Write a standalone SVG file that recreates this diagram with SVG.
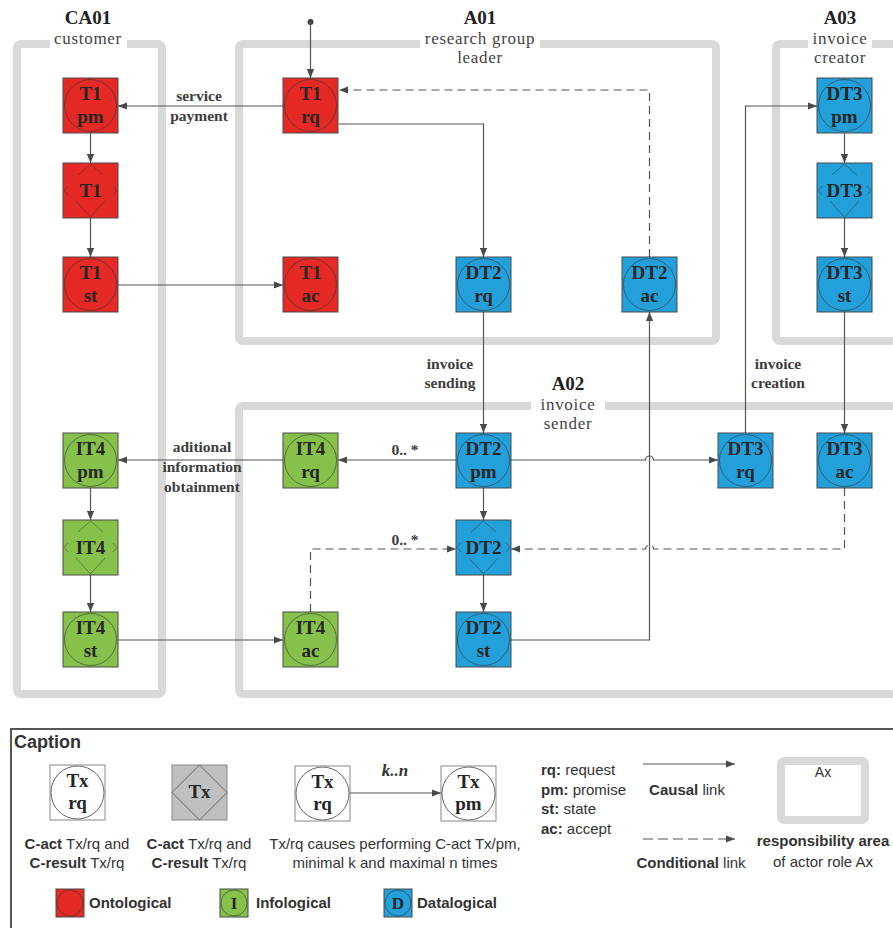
<svg xmlns="http://www.w3.org/2000/svg" width="893" height="928" viewBox="0 0 893 928">
<style>
.frame{fill:none;stroke:#d9d9d9;stroke-width:8}
.n{stroke:#4a4a4a;stroke-width:1}
.red{fill:#e52a25}
.grn{fill:#86c24b}
.blu{fill:#23a0da}
.ring{fill:none;stroke:#333;stroke-opacity:.6;stroke-width:1}
.nt{font-family:"Liberation Serif",serif;font-weight:bold;font-size:19px;fill:#262626;text-anchor:middle}
.ttl{font-family:"Liberation Serif",serif;font-weight:bold;font-size:19px;fill:#222;text-anchor:middle}
.sub{font-family:"Liberation Serif",serif;font-size:17px;letter-spacing:0.7px;fill:#444;text-anchor:middle}
.lbl{font-family:"Liberation Serif",serif;font-weight:bold;font-size:15.5px;fill:#3d3d3d;text-anchor:middle}
.lnk{fill:none;stroke:#555;stroke-width:1.2}
.dash{stroke-dasharray:8 5}
.cap{font-family:"Liberation Sans",Arial,sans-serif;font-size:15px;fill:#333}
.mid{text-anchor:middle}
.b{font-weight:bold}
.wbg{fill:#fff}
</style>
<defs>
<marker id="ah" viewBox="0 0 10 8" refX="10" refY="4" markerWidth="9" markerHeight="7.2" markerUnits="userSpaceOnUse" orient="auto"><path d="M0,0 L10,4 L0,8 z" fill="#4a4a4a"/></marker>
<g id="xm" fill="none" stroke="#2d2d2d" stroke-opacity="0.45" stroke-width="1">
<path d="M15,12 L27.5,1 L40,12"/>
<path d="M13,38 L27.5,54 L42,38"/>
<path d="M5,23 L1,27.5 L5,32"/>
<path d="M50,23 L54,27.5 L50,32"/>
</g>
</defs>
<rect width="893" height="928" fill="#fff"/>

<g id="areas">
<rect class="frame" x="17" y="44" width="145" height="650" rx="4"/>
<rect class="frame" x="239" y="44" width="477" height="297" rx="4"/>
<rect class="frame" x="776" y="44" width="140" height="297" rx="4"/>
<rect class="frame" x="239" y="406" width="680" height="288" rx="4"/>
<rect class="wbg" x="50" y="30" width="77" height="19"/>
<rect class="wbg" x="420" y="30" width="120" height="19"/>
<rect class="wbg" x="808" y="30" width="64" height="19"/>
<rect class="wbg" x="531" y="396" width="74" height="19"/>
<text class="ttl" x="88" y="24">CA01</text>
<text class="sub" x="88" y="44">customer</text>
<text class="ttl" x="480" y="24">A01</text>
<text class="sub" x="480" y="44">research group</text>
<text class="sub" x="480" y="63">leader</text>
<text class="ttl" x="840" y="24">A03</text>
<text class="sub" x="840" y="44">invoice</text>
<text class="sub" x="840" y="63">creator</text>
<text class="ttl" x="568" y="390">A02</text>
<text class="sub" x="568" y="410">invoice</text>
<text class="sub" x="568" y="429">sender</text>
</g>

<g id="connectors">
<circle cx="310.5" cy="22" r="3" fill="#444"/>
<path class="lnk" d="M310.5,22 V78" marker-end="url(#ah)"/>
<path class="lnk" d="M283,106 H118" marker-end="url(#ah)"/>
<path class="lnk" d="M339,124 H483.5 V257" marker-end="url(#ah)"/>
<path class="lnk dash" d="M649.5,257 V90 H339" marker-end="url(#ah)"/>
<path class="lnk" d="M90.5,133 V163" marker-end="url(#ah)"/>
<path class="lnk" d="M90.5,218 V257" marker-end="url(#ah)"/>
<path class="lnk" d="M118,285 H283" marker-end="url(#ah)"/>
<path class="lnk" d="M844.5,133 V163" marker-end="url(#ah)"/>
<path class="lnk" d="M844.5,218 V257" marker-end="url(#ah)"/>
<path class="lnk" d="M745.5,433 V106 H817" marker-end="url(#ah)"/>
<path class="lnk" d="M844.5,312 V433" marker-end="url(#ah)"/>
<path class="lnk" d="M483.5,312 V433" marker-end="url(#ah)"/>
<path class="lnk" d="M456,460 H338" marker-end="url(#ah)"/>
<path class="lnk" d="M283,460 H118" marker-end="url(#ah)"/>
<path class="lnk" d="M511,460 H645.5 a4,4 0 0 1 8,0 H718" marker-end="url(#ah)"/>
<path class="lnk" d="M483.5,488 V520" marker-end="url(#ah)"/>
<path class="lnk" d="M483.5,575 V612" marker-end="url(#ah)"/>
<path class="lnk" d="M511,640 H649.5 V312" marker-end="url(#ah)"/>
<path class="lnk" d="M90.5,488 V520" marker-end="url(#ah)"/>
<path class="lnk" d="M90.5,575 V612" marker-end="url(#ah)"/>
<path class="lnk" d="M118,640 H283" marker-end="url(#ah)"/>
<path class="lnk dash" d="M310.5,612 V549 H456" marker-end="url(#ah)"/>
<path class="lnk dash" d="M844.5,488 V549 H653.5 a4,4 0 0 0 -8,0 H511" marker-end="url(#ah)"/>
<text class="lbl" x="199" y="101">service</text>
<text class="lbl" x="199" y="121">payment</text>
<text class="lbl" x="450" y="369">invoice</text>
<text class="lbl" x="450" y="388">sending</text>
<text class="lbl" x="778" y="369">invoice</text>
<text class="lbl" x="778" y="388">creation</text>
<text class="lbl" x="202" y="452">aditional</text>
<text class="lbl" x="202" y="472">information</text>
<text class="lbl" x="202" y="492">obtainment</text>
<text class="lbl" x="405" y="455">0.. *</text>
<text class="lbl" x="405" y="545">0.. *</text>
</g>

<g id="T1pm"><rect class="n red" x="63" y="78" width="55" height="55"/><circle class="ring" cx="90.5" cy="105.5" r="26"/><text class="nt" x="90.5" y="100">T1</text><text class="nt" x="90.5" y="123">pm</text></g>
<g id="T1ex"><rect class="n red" x="63" y="163" width="55" height="55"/><use href="#xm" x="63" y="163"/><text class="nt" x="90.5" y="197">T1</text></g>
<g id="T1st"><rect class="n red" x="63" y="257" width="55" height="55"/><circle class="ring" cx="90.5" cy="284.5" r="26"/><text class="nt" x="90.5" y="279">T1</text><text class="nt" x="90.5" y="302">st</text></g>
<g id="T1rq"><rect class="n red" x="283" y="78" width="55" height="55"/><circle class="ring" cx="310.5" cy="105.5" r="26"/><text class="nt" x="310.5" y="100">T1</text><text class="nt" x="310.5" y="123">rq</text></g>
<g id="T1ac"><rect class="n red" x="283" y="257" width="55" height="55"/><circle class="ring" cx="310.5" cy="284.5" r="26"/><text class="nt" x="310.5" y="279">T1</text><text class="nt" x="310.5" y="302">ac</text></g>
<g id="DT2rq"><rect class="n blu" x="456" y="257" width="55" height="55"/><circle class="ring" cx="483.5" cy="284.5" r="26"/><text class="nt" x="483.5" y="279">DT2</text><text class="nt" x="483.5" y="302">rq</text></g>
<g id="DT2ac"><rect class="n blu" x="622" y="257" width="55" height="55"/><circle class="ring" cx="649.5" cy="284.5" r="26"/><text class="nt" x="649.5" y="279">DT2</text><text class="nt" x="649.5" y="302">ac</text></g>
<g id="DT3pm"><rect class="n blu" x="817" y="78" width="55" height="55"/><circle class="ring" cx="844.5" cy="105.5" r="26"/><text class="nt" x="844.5" y="100">DT3</text><text class="nt" x="844.5" y="123">pm</text></g>
<g id="DT3ex"><rect class="n blu" x="817" y="163" width="55" height="55"/><use href="#xm" x="817" y="163"/><text class="nt" x="844.5" y="197">DT3</text></g>
<g id="DT3st"><rect class="n blu" x="817" y="257" width="55" height="55"/><circle class="ring" cx="844.5" cy="284.5" r="26"/><text class="nt" x="844.5" y="279">DT3</text><text class="nt" x="844.5" y="302">st</text></g>
<g id="IT4pm"><rect class="n grn" x="63" y="433" width="55" height="55"/><circle class="ring" cx="90.5" cy="460.5" r="26"/><text class="nt" x="90.5" y="455">IT4</text><text class="nt" x="90.5" y="478">pm</text></g>
<g id="IT4ex"><rect class="n grn" x="63" y="520" width="55" height="55"/><use href="#xm" x="63" y="520"/><text class="nt" x="90.5" y="554">IT4</text></g>
<g id="IT4st"><rect class="n grn" x="63" y="612" width="55" height="55"/><circle class="ring" cx="90.5" cy="639.5" r="26"/><text class="nt" x="90.5" y="634">IT4</text><text class="nt" x="90.5" y="657">st</text></g>
<g id="IT4rq"><rect class="n grn" x="283" y="433" width="55" height="55"/><circle class="ring" cx="310.5" cy="460.5" r="26"/><text class="nt" x="310.5" y="455">IT4</text><text class="nt" x="310.5" y="478">rq</text></g>
<g id="IT4ac"><rect class="n grn" x="283" y="612" width="55" height="55"/><circle class="ring" cx="310.5" cy="639.5" r="26"/><text class="nt" x="310.5" y="634">IT4</text><text class="nt" x="310.5" y="657">ac</text></g>
<g id="DT2pm"><rect class="n blu" x="456" y="433" width="55" height="55"/><circle class="ring" cx="483.5" cy="460.5" r="26"/><text class="nt" x="483.5" y="455">DT2</text><text class="nt" x="483.5" y="478">pm</text></g>
<g id="DT2ex"><rect class="n blu" x="456" y="520" width="55" height="55"/><use href="#xm" x="456" y="520"/><text class="nt" x="483.5" y="554">DT2</text></g>
<g id="DT2st"><rect class="n blu" x="456" y="612" width="55" height="55"/><circle class="ring" cx="483.5" cy="639.5" r="26"/><text class="nt" x="483.5" y="634">DT2</text><text class="nt" x="483.5" y="657">st</text></g>
<g id="DT3rq"><rect class="n blu" x="718" y="433" width="55" height="55"/><circle class="ring" cx="745.5" cy="460.5" r="26"/><text class="nt" x="745.5" y="455">DT3</text><text class="nt" x="745.5" y="478">rq</text></g>
<g id="DT3ac"><rect class="n blu" x="817" y="433" width="55" height="55"/><circle class="ring" cx="844.5" cy="460.5" r="26"/><text class="nt" x="844.5" y="455">DT3</text><text class="nt" x="844.5" y="478">ac</text></g>

<g id="caption">
<rect x="11" y="729" width="900" height="220" fill="none" stroke="#555" stroke-width="2"/>
<text class="cap b" x="14" y="748" style="font-size:18px">Caption</text>
<rect x="50" y="765" width="55" height="55" fill="#fff" stroke="#888"/>
<circle cx="77.5" cy="792.5" r="26.5" fill="#fff" stroke="#666"/>
<text class="nt" x="77.5" y="787">Tx</text><text class="nt" x="77.5" y="809">rq</text>
<text class="cap mid" x="77" y="849"><tspan class="b">C-act</tspan> Tx/rq and</text>
<text class="cap mid" x="77" y="868"><tspan class="b">C-result</tspan> Tx/rq</text>
<rect x="172" y="765" width="55" height="55" fill="#c0c0c0" stroke="#888"/>
<polygon points="199.5,765 227,792.5 199.5,820 172,792.5" fill="none" stroke="#666"/>
<text class="nt" x="199.5" y="798">Tx</text>
<text class="cap mid" x="199" y="849"><tspan class="b">C-act</tspan> Tx/rq and</text>
<text class="cap mid" x="199" y="868"><tspan class="b">C-result</tspan> Tx/rq</text>
<rect x="295" y="766" width="55" height="55" fill="#fff" stroke="#888"/>
<circle cx="322.5" cy="793.5" r="26.5" fill="#fff" stroke="#666"/>
<text class="nt" x="322.5" y="788">Tx</text><text class="nt" x="322.5" y="810">rq</text>
<path class="lnk" d="M350,793 H441" marker-end="url(#ah)"/>
<text x="395" y="776" font-family="Liberation Serif,serif" font-style="italic" font-weight="bold" font-size="17" fill="#333" text-anchor="middle">k..n</text>
<rect x="441" y="766" width="55" height="55" fill="#fff" stroke="#888"/>
<circle cx="468.5" cy="793.5" r="26.5" fill="#fff" stroke="#666"/>
<text class="nt" x="468.5" y="788">Tx</text><text class="nt" x="468.5" y="810">pm</text>
<text class="cap mid" x="395" y="849">Tx/rq causes performing C-act Tx/pm,</text>
<text class="cap mid" x="395" y="868">minimal k and maximal n times</text>
<text class="cap" x="541" y="775"><tspan class="b">rq:</tspan> request</text>
<text class="cap" x="541" y="795"><tspan class="b">pm:</tspan> promise</text>
<text class="cap" x="541" y="814"><tspan class="b">st:</tspan> state</text>
<text class="cap" x="541" y="834"><tspan class="b">ac:</tspan> accept</text>
<path class="lnk" d="M643,764 H735" marker-end="url(#ah)"/>
<text class="cap mid" x="687" y="795"><tspan class="b">Causal</tspan> link</text>
<path class="lnk" d="M643,839 H735" stroke-dasharray="10 5" marker-end="url(#ah)"/>
<text class="cap mid" x="691" y="868"><tspan class="b">Conditional</tspan> link</text>
<rect class="frame" x="781" y="761" width="84" height="59" rx="3"/>
<text class="cap mid" x="823" y="777" style="font-size:14px">Ax</text>
<text class="cap mid b" x="823" y="846">responsibility area</text>
<text class="cap mid" x="823" y="867">of actor role Ax</text>
<rect class="n red" x="56" y="889" width="28" height="28"/>
<circle class="ring" cx="70" cy="903" r="13" stroke-opacity="0.2"/>
<text class="cap b" x="89" y="908">Ontological</text>
<rect class="n grn" x="220" y="889" width="28" height="28"/>
<circle class="ring" cx="234" cy="903" r="13"/>
<text class="nt" x="234" y="909" style="font-size:17px">I</text>
<text class="cap b" x="256" y="908">Infological</text>
<rect class="n blu" x="384" y="889" width="28" height="28"/>
<circle class="ring" cx="398" cy="903" r="13"/>
<text class="nt" x="398" y="909" style="font-size:17px">D</text>
<text class="cap b" x="417" y="908">Datalogical</text>
</g>
</svg>
